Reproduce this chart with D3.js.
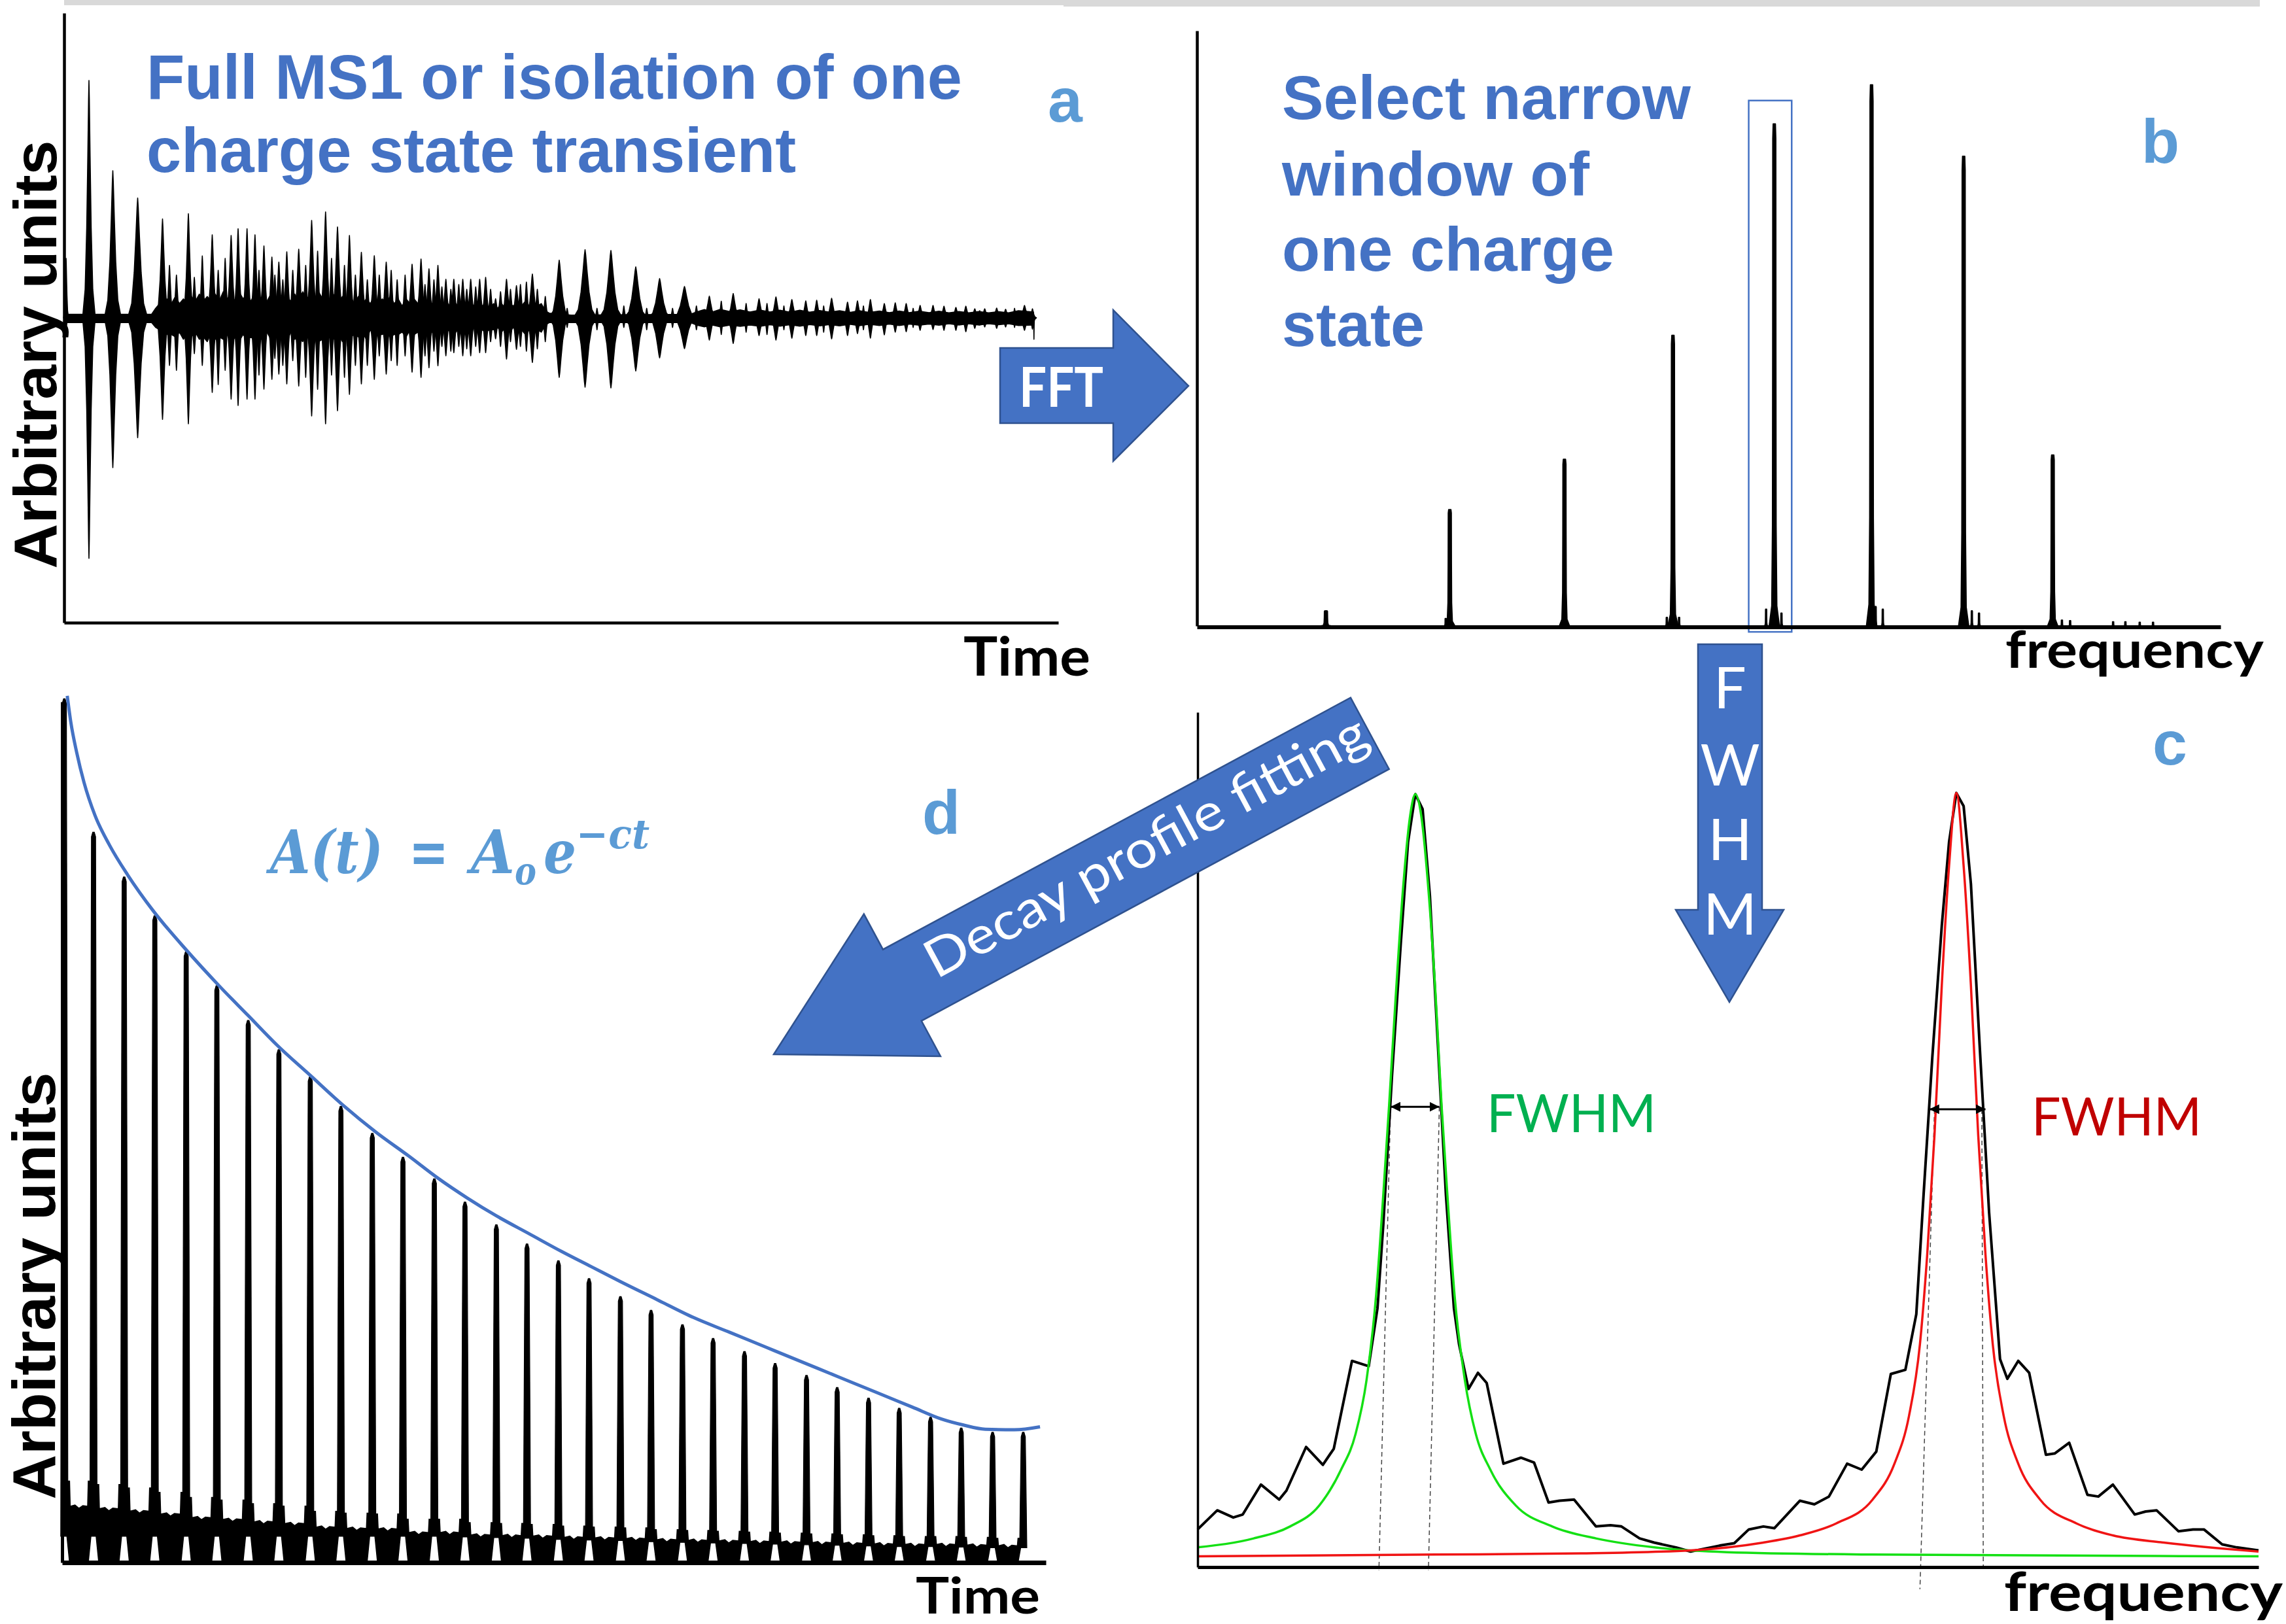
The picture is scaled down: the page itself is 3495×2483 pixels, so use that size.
<!DOCTYPE html>
<html>
<head>
<meta charset="utf-8">
<script src="https://cdn.jsdelivr.net/npm/d3@7"></script>
<style>
  html, body { margin: 0; padding: 0; background: #fff; }
  svg { display: block; }
</style>
</head>
<body>
<svg id="fig" width="3495" height="2483"></svg>
<script>
// ---------- panel a : transient (time, amplitude up, amplitude down, half width)
var transientBeats = [
  [0.2, 25, 5, 0.25], [2.5, 99.7, 101, 0.64], [4.9, 61.8, 62.9, 0.84], [7.4, 50.3, 50.3, 1.0],
  [9.9, 41.5, 42.6, 0.7], [12.5, 43.7, 44.5, 0.62], [14.9, 34.9, 31.3, 0.6], [16.8, 34.6, 34.1, 0.6],
  [17.5, 37.4, 36.8, 0.55], [18.4, 37.4, 34.1, 0.55], [19.2, 34.9, 34.1, 0.55], [20.1, 30.2, 29.9, 0.55],
  [20.9, 25.5, 25.8, 0.55], [21.6, 23.4, 23.6, 0.55], [22.4, 27.7, 27.7, 0.55], [23.6, 28.8, 28.6, 0.6],
  [24.9, 40.9, 41.2, 0.65], [26.3, 44.5, 44.5, 0.65], [27.5, 38.2, 39.0, 0.65], [28.7, 34.6, 32.1, 0.6],
  [29.9, 27.5, 27.7, 0.6], [31.2, 26.1, 25.8, 0.6], [32.4, 23.4, 23.6, 0.6], [35.0, 22.5, 22.8, 0.6],
  [35.9, 24.7, 25.0, 0.6], [36.7, 20.6, 20.9, 0.55], [37.6, 22.0, 20.1, 0.55], [38.4, 16.2, 15.9, 0.55],
  [39.2, 16.2, 14.6, 0.55], [40.1, 16.2, 15.9, 0.55], [40.9, 16.2, 15.9, 0.55], [41.8, 16.2, 14.6, 0.55],
  [42.4, 17.0, 14.6, 0.55], [43.4, 8.0, 8.8, 0.55], [44.5, 16.2, 17.3, 0.6], [45.5, 13.5, 13.2, 0.6],
  [47.1, 18.4, 18.7, 0.7], [49.8, 24.2, 25.0, 1.0], [52.4, 28.6, 29.1, 1.15], [55.0, 28.3, 29.4, 1.15],
  [57.5, 21.4, 22.3, 1.15], [59.9, 16.5, 16.8, 1.15], [62.4, 13.2, 12.9, 1.2], [64.9, 9.1, 9.3, 0.75],
  [67.3, 10.2, 10.7, 0.75], [69.9, 8.0, 7.4, 0.65], [71.6, 8.8, 9.3, 0.65], [73.2, 7.7, 8.5, 0.65],
  [74.6, 7.1, 7.4, 0.55], [75.7, 7.4, 7.4, 0.55], [77.2, 8.2, 8.8, 0.65], [78.8, 6.6, 7.4, 0.55],
  [79.8, 7.1, 6.6, 0.55], [81.1, 7.7, 8.5, 0.55], [82.5, 6.0, 7.1, 0.55], [83.6, 6.3, 6.0, 0.55],
  [84.7, 6.0, 5.8, 0.55], [86.1, 5.2, 5.2, 0.55], [87.4, 5.2, 4.9, 0.55], [88.5, 4.9, 5.2, 0.55],
  [89.7, 4.4, 5.2, 0.55], [90.7, 4.9, 5.8, 0.55], [91.6, 3.8, 4.4, 0.55], [92.6, 3.8, 3.8, 0.55],
  [93.8, 4.1, 4.4, 0.55], [94.7, 3.6, 3.8, 0.55], [96.6, 5.2, 5.2, 0.65], [97.4, 3.8, 4.7, 0.4],
  [97.55, 0, 9, 0.06]
];
var transientMinor = [
  [10.6, 22, 20, 0.45], [11.3, 18, 22, 0.45], [13.1, 17, 15, 0.45], [13.9, 26, 20, 0.45],
  [15.5, 20, 28, 0.45], [16.2, 25, 22, 0.45], [19.6, 20, 24, 0.45], [21.2, 18, 17, 0.45],
  [22.0, 16, 20, 0.45], [23.0, 20, 18, 0.45], [24.3, 22, 25, 0.45], [25.5, 28, 30, 0.45],
  [26.9, 25, 24, 0.45], [28.2, 22, 25, 0.45], [29.3, 18, 20, 0.45], [30.5, 16, 20, 0.45],
  [31.7, 18, 16, 0.45], [32.9, 20, 18, 0.45], [33.5, 16, 20, 0.45], [34.3, 18, 16, 0.45],
  [36.3, 14, 16, 0.45], [37.2, 16, 14, 0.45], [38.0, 13, 12, 0.45], [38.9, 12, 14, 0.45],
  [39.7, 14, 12, 0.45], [40.5, 12, 13, 0.45], [41.4, 13, 12, 0.45], [42.9, 12, 10, 0.45],
  [43.9, 11, 12, 0.45], [44.9, 12, 10, 0.45], [45.9, 14, 12, 0.45], [46.5, 15, 14, 0.45],
  [47.6, 12, 13, 0.45], [48.4, 9, 10, 0.4], [50.6, 4, 4, 0.3], [53.6, 4, 5, 0.3],
  [56.3, 5, 4, 0.3], [58.6, 4, 5, 0.3], [61.2, 4, 4, 0.3], [63.6, 5, 5, 0.35],
  [66.1, 7, 7, 0.35], [68.6, 6, 6, 0.35], [70.7, 6, 7, 0.35], [72.4, 5, 5, 0.3],
  [76.4, 5, 6, 0.3], [80.4, 5, 5, 0.3], [85.4, 4, 4, 0.3], [92.1, 3, 3, 0.3], [95.6, 4, 4, 0.3]
];
// dense carrier floor: time, upper, lower
var transientBand = [
  [0, 1.5, 2], [8.8, 1.5, 2], [9.2, 4, 4], [9.6, 6, 5], [10.0, 5, 5], [10.4, 8, 7], [10.8, 6, 7],
  [11.2, 9, 8], [11.6, 6, 6], [12.0, 8, 9], [12.4, 6, 7], [12.8, 9, 8], [13.2, 7, 6], [13.6, 10, 9],
  [14.0, 7, 8], [14.4, 9, 10], [14.8, 7, 6], [15.2, 10, 9], [15.6, 7, 8], [16.0, 11, 9], [16.4, 8, 7],
  [16.8, 10, 11], [17.2, 7, 8], [17.6, 11, 10], [18.0, 8, 7], [18.4, 10, 9], [18.8, 7, 8], [19.2, 11, 10],
  [19.6, 8, 7], [20.0, 9, 10], [20.4, 7, 6], [20.8, 10, 9], [21.2, 7, 8], [21.6, 9, 8], [22.0, 6, 7],
  [22.4, 9, 10], [22.8, 7, 6], [23.2, 10, 9], [23.6, 7, 8], [24.0, 11, 10], [24.4, 8, 7], [24.8, 10, 11],
  [25.2, 8, 7], [25.6, 11, 10], [26.0, 8, 9], [26.4, 10, 9], [26.8, 7, 8], [27.2, 10, 9], [27.6, 7, 7],
  [28.0, 9, 10], [28.4, 7, 6], [28.8, 9, 8], [29.2, 6, 7], [29.6, 9, 8], [30.0, 6, 6], [30.4, 8, 9],
  [30.8, 6, 5], [31.2, 9, 8], [31.6, 6, 7], [32.0, 8, 7], [32.4, 6, 6], [32.8, 9, 8], [33.2, 6, 7],
  [33.6, 8, 7], [34.0, 5, 6], [34.4, 8, 8], [34.8, 6, 5], [35.2, 8, 7], [35.6, 6, 6], [36.0, 8, 8],
  [36.4, 5, 6], [36.8, 7, 7], [37.2, 5, 5], [37.6, 8, 7], [38.0, 5, 6], [38.4, 7, 6], [38.8, 5, 5],
  [39.2, 7, 7], [39.6, 5, 5], [40.0, 7, 6], [40.4, 5, 5], [40.8, 7, 7], [41.2, 5, 4], [41.6, 7, 6],
  [42.0, 5, 5], [42.4, 6, 6], [42.8, 4, 5], [43.2, 6, 5], [43.6, 4, 4], [44.0, 6, 6], [44.4, 4, 4],
  [44.8, 6, 6], [45.2, 5, 4], [45.6, 7, 6], [46.0, 5, 5], [46.4, 7, 7], [46.8, 5, 5], [47.2, 7, 6],
  [47.6, 5, 5], [48.0, 6, 6], [48.4, 3, 3], [48.8, 2, 2], [51, 1.2, 2], [63, 1.5, 2], [63.6, 2.5, 3],
  [64.4, 3.5, 3.8], [65.2, 2.5, 3], [66.0, 3.6, 3.8], [67.0, 2.6, 3.0], [68.0, 3.4, 3.6], [69.0, 2.5, 3],
  [70.0, 3.3, 3.6], [71.0, 2.5, 2.9], [72.0, 3.2, 3.5], [73.0, 2.4, 2.9], [74.0, 3.2, 3.5], [75.0, 2.4, 2.8],
  [76.0, 3.1, 3.4], [77.0, 2.4, 2.8], [78.0, 3.0, 3.4], [79.0, 2.3, 2.7], [80.0, 3.0, 3.3], [81.0, 2.3, 2.7],
  [82.0, 2.9, 3.2], [83.0, 2.2, 2.6], [84.0, 2.9, 3.2], [85.0, 2.2, 2.6], [86.0, 2.8, 3.1], [87.0, 2.2, 2.6],
  [88.0, 2.8, 3.1], [89.0, 2.1, 2.5], [90.0, 2.7, 3.0], [91.0, 2.1, 2.5], [92.0, 2.7, 3.0], [93.0, 2.1, 2.5],
  [94.0, 2.6, 2.9], [95.0, 2.1, 2.5], [96.0, 3.0, 3.2], [97.5, 2.5, 3]
];

// ---------- panel b : spectrum
var specFreq = [12.6, 24.7, 35.9, 46.5, 56.4, 65.9, 74.9, 83.6];
var specHeight = [2.8, 21.5, 30.8, 53.7, 92.8, 100, 86.8, 31.6];
var specSmall = [
  [55.6, 3.1], [57.1, 2.4], [66.3, 3.6], [67.0, 3.1], [75.7, 2.8], [76.4, 2.4], [47.1, 1.6],
  [45.9, 1.6], [84.5, 1.1], [85.3, 1.0], [89.5, 0.8], [90.7, 0.8], [92.1, 0.7], [93.4, 0.7],
  [24.3, 1.4], [35.7, 1.1]
];
var selectedWindow = [53.9, 58.1];
var selectedTop = 97.1;

// ---------- panel c : one charge state, measured profile and two fits
var measured = [
  [0,63],[27,95],[49,83],[62,88],[87,138],[112,113],[122,128],[149,201],[172,171],[187,198],
  [212,345],[235,336],[247,433],[255,573],[267,823],[279,1043],[289,1213],[299,1293],[309,1268],
  [319,1123],[330,873],[341,623],[352,433],[359,373],[372,298],[385,325],[397,308],[420,173],
  [444,183],[462,175],[482,108],[497,111],[517,113],[547,68],[567,70],[582,68],[607,48],[627,41],
  [657,33],[677,26],[717,36],[737,40],[757,63],[777,68],[792,65],[827,111],[847,105],[867,118],
  [892,173],[912,163],[932,193],[952,323],[972,330],[987,423],[997,623],[1009,853],[1022,1073],
  [1032,1213],[1042,1295],[1052,1273],[1062,1143],[1074,873],[1087,593],[1102,348],[1112,315],
  [1127,345],[1142,325],[1165,188],[1177,190],[1197,208],[1222,121],[1237,118],[1257,138],
  [1287,88],[1302,93],[1317,95],[1347,60],[1367,63],[1382,63],[1407,38],[1427,33],[1457,28]
];
var fitGreen = [
  [0,33],[77,48],[127,68],[167,103],[197,163],[217,223],[232,313],[245,453],[255,623],[263,773],
  [272,953],[282,1133],[292,1258],[299,1293],[307,1258],[317,1133],[327,953],[335,773],[343,623],
  [353,453],[367,313],[382,223],[402,163],[437,103],[487,68],[547,48],[627,33],[727,25],[927,21],[1457,18]
];
var fitRed = [
  [0,18],[327,21],[527,23],[677,28],[777,41],[827,53],[877,73],[927,113],[957,173],[977,253],
  [992,373],[1002,523],[1012,723],[1022,973],[1032,1173],[1042,1295],[1052,1173],[1062,973],
  [1072,723],[1082,523],[1092,373],[1107,253],[1127,173],[1157,113],[1207,73],[1257,53],
  [1327,41],[1457,26]
];
// FWHM markers: level, left, right
var fwhmGreen = [770, 265, 332];
var fwhmRed = [766, 1005, 1082];
// guide lines [x at FWHM level, level, x at floor, floor]
var fwhmGuides = [[265, 770, 249, -5], [332, 770, 317, -5], [1012, 766, 992, -37], [1077, 766, 1079, 0]];

// ---------- panel d : decay of one charge state
var decayTime = [3, 43, 85, 127, 170, 212, 255, 297, 340, 382, 425, 467, 510, 552, 595, 637,
  680, 722, 765, 807, 850, 892, 935, 977, 1020, 1062, 1105, 1147, 1190, 1232, 1275, 1317];
var decayHeight = [1445, 1222, 1147, 1082, 1022, 965, 907, 858, 813, 763, 718, 678, 642, 603, 565,
  533, 505, 475, 445, 422, 398, 375, 353, 333, 313, 293, 275, 258, 243, 225, 218, 218];
var decayFloor = [94, 90, 86, 81, 75, 72, 68, 65, 59, 57, 56, 50, 50, 46, 45, 44, 42, 41, 40, 38,
  37, 36, 35, 34, 33, 32, 31, 30, 30, 29, 28];
var decayFit = [
  [7,1450],[12,1405],[20,1355],[30,1305],[45,1250],[65,1200],[90,1150],[125,1090],[170,1025],
  [215,965],[255,915],[295,865],[340,815],[385,765],[430,720],[475,680],[515,643],[555,610],
  [595,580],[640,550],[685,520],[725,495],[765,470],[815,440],[865,410],[915,385],[965,360],
  [1015,335],[1065,310],[1115,285],[1165,260],[1205,240],[1235,230],[1265,223],[1305,222],[1340,227]
];

var BLUE = "#4472C4", BLUE_EDGE = "#2F528F", LIGHT = "#5B9BD5";
var ARIAL = "'Liberation Sans', Arial, sans-serif";
var CAL = "Lato, 'Open Sans', sans-serif";

var svg = d3.select("#fig");
var defs = svg.append("defs");
defs.append("marker").attr("id", "tip").attr("viewBox", "0 0 10 10")
  .attr("refX", 10).attr("refY", 5).attr("markerWidth", 5).attr("markerHeight", 5)
  .attr("orient", "auto-start-reverse")
  .append("path").attr("d", "M0,0L10,5L0,10Z").attr("fill", "#000");

function txt(g, x, y, s, size, opts) {
  opts = opts || {};
  var t = g.append("text").attr("x", x).attr("y", y).text(s)
    .attr("font-size", size)
    .attr("font-family", opts.family || ARIAL)
    .attr("font-weight", opts.weight || "bold")
    .attr("fill", opts.fill || "#000");
  if (opts.len) t.attr("textLength", opts.len).attr("lengthAdjust", "spacingAndGlyphs");
  if (opts.anchor) t.attr("text-anchor", opts.anchor);
  if (opts.style) t.attr("font-style", opts.style);
  return t;
}
function plainAxis(g, axis, at, width, horizontal) {
  var a = g.append("g").attr("transform", horizontal ? "translate(0," + at + ")" : "translate(" + at + ",0)")
    .call(axis.tickValues([]).tickSizeOuter(0));
  a.select(".domain").attr("stroke", "#000").attr("stroke-width", width);
  return a;
}

// gray strip along the top
svg.append("rect").attr("x", 98).attr("y", 0).attr("width", 1528).attr("height", 8).attr("fill", "#d9d9d9");
svg.append("rect").attr("x", 1626).attr("y", 0).attr("width", 1829).attr("height", 10).attr("fill", "#d9d9d9");

// ================= panel a
var gA = svg.append("g");
var xa = d3.scaleLinear().domain([0, 100]).range([98, 1618]);
var ya = d3.scaleLinear().domain([-128, 128]).range([952, 20]);

var beatShape = [[-1,0],[-0.6,0.12],[-0.35,0.38],[-0.18,0.68],[-0.06,0.92],[0,1],[0.06,0.92],[0.18,0.68],[0.35,0.38],[0.6,0.12],[1,0]];
function beatOutline(d) {
  var top = beatShape.map(function (p) { return [d[0] + p[0] * d[3], p[1] * d[1]]; });
  var bot = beatShape.slice().reverse().map(function (p) { return [d[0] + p[0] * d[3], -p[1] * d[2]]; });
  return top.concat(bot);
}
var areaA = d3.area().x(function (d) { return xa(d[0]); })
  .y0(function (d) { return ya(-d[2]); }).y1(function (d) { return ya(d[1]); });
gA.append("path").datum(transientBand).attr("d", areaA).attr("fill", "#000")
  .attr("stroke", "#000").attr("stroke-width", 1.5).attr("stroke-linejoin", "round");
var lineA = d3.line().x(function (d) { return xa(d[0]); }).y(function (d) { return ya(d[1]); });
gA.selectAll("path.beat").data(transientBeats.concat(transientMinor)).join("path")
  .attr("class", "beat")
  .attr("d", function (d) { return lineA(beatOutline(d)) + "Z"; })
  .attr("fill", "#000").attr("stroke", "#000").attr("stroke-width", 1.6).attr("stroke-linejoin", "round");

plainAxis(gA, d3.axisBottom(xa), ya(-128), 4.5, true);
plainAxis(gA, d3.axisLeft(ya), xa(0), 4.5, false);

txt(gA, 224, 151, "Full MS1 or isolation of one", 97, { fill: BLUE, len: 1247 });
txt(gA, 224, 263, "charge state transient", 97, { fill: BLUE, len: 993 });
txt(gA, 1602, 186, "a", 95, { fill: LIGHT });
txt(gA, 0, 0, "Arbitrary units", 92, { anchor: "middle", len: 655 })
  .attr("transform", "translate(86,542) rotate(-90)");
txt(gA, 1473, 1033, "Time", 83, { family: CAL, len: 194 });

// FFT arrow
svg.append("path")
  .attr("d", "M1529,532H1702V474L1817,590L1702,705V647H1529Z")
  .attr("fill", BLUE).attr("stroke", BLUE_EDGE).attr("stroke-width", 2.5);
txt(svg, 1558, 622, "FFT", 84, { family: CAL, fill: "#fff", len: 129 });

// ================= panel b
var gB = svg.append("g");
var xb = d3.scaleLinear().domain([0, 100]).range([1830, 3395]);
var yb = d3.scaleLinear().domain([0, 110]).range([957, 47]);

var peakShape = [[-1,0],[-0.5,0.04],[-0.36,0.2],[-0.32,0.55],[-0.3,0.97],[-0.22,1],[0.22,1],[0.3,0.97],[0.32,0.55],[0.36,0.2],[0.5,0.04],[1,0]];
var lineB = d3.line().x(function (d) { return xb(d[0]); }).y(function (d) { return yb(d[1]); });
function peakOutline(f, h, w) {
  return peakShape.map(function (p) { return [f + p[0] * w, p[1] * h]; });
}
gB.selectAll("path.small").data(specSmall).join("path").attr("class", "small")
  .attr("d", function (d) { return lineB(peakOutline(d[0], d[1], 0.22)) + "Z"; })
  .attr("fill", "#000").attr("stroke", "#000").attr("stroke-width", 1.5);
gB.selectAll("path.peak").data(specFreq).join("path").attr("class", "peak")
  .attr("d", function (d, i) { return lineB(peakOutline(d, specHeight[i], 0.5)) + "Z"; })
  .attr("fill", "#000").attr("stroke", "#000").attr("stroke-width", 1.8).attr("stroke-linejoin", "round");

gB.append("rect")
  .attr("x", xb(selectedWindow[0])).attr("y", yb(selectedTop))
  .attr("width", xb(selectedWindow[1]) - xb(selectedWindow[0]))
  .attr("height", yb(-1.1) - yb(selectedTop))
  .attr("fill", "none").attr("stroke", BLUE).attr("stroke-width", 2.5);

plainAxis(gB, d3.axisBottom(xb), yb(0) + 1.5, 6, true);
plainAxis(gB, d3.axisLeft(yb), xb(0), 4.5, false);

txt(gB, 1960, 182, "Select narrow", 95, { fill: BLUE, len: 625 });
txt(gB, 1960, 299, "window of", 95, { fill: BLUE, len: 470 });
txt(gB, 1960, 414, "one charge", 95, { fill: BLUE, len: 508 });
txt(gB, 1960, 529, "state", 95, { fill: BLUE, len: 218 });
txt(gB, 3274, 249, "b", 95, { fill: LIGHT });
txt(gB, 3066, 1021, "frequency", 78, { family: CAL, len: 395 });

// FWHM arrow (down)
svg.append("path")
  .attr("d", "M2596,985H2694V1391H2727L2644,1532L2562,1391H2596Z")
  .attr("fill", BLUE).attr("stroke", BLUE_EDGE).attr("stroke-width", 2.5);
["F", "W", "H", "M"].forEach(function (ch, i) {
  txt(svg, 2645, [1083, 1201, 1315, 1429][i], ch, 88, { family: CAL, weight: "normal", fill: "#fff", anchor: "middle" });
});

// ================= panel c
var gC = svg.append("g");
var xc = d3.scaleLinear().domain([0, 1457]).range([1831, 3453]);
var yc = d3.scaleLinear().domain([0, 1430]).range([2396, 1089]);
var lineC = d3.line().x(function (d) { return xc(d[0]); }).y(function (d) { return yc(d[1]); });
var smoothC = d3.line().x(function (d) { return xc(d[0]); }).y(function (d) { return yc(d[1]); })
  .curve(d3.curveMonotoneX);

gC.selectAll("line.guide").data(fwhmGuides).join("line").attr("class", "guide")
  .attr("x1", function (d) { return xc(d[0]); }).attr("y1", function (d) { return yc(d[1]); })
  .attr("x2", function (d) { return xc(d[2]); }).attr("y2", function (d) { return yc(d[3]); })
  .attr("stroke", "#444").attr("stroke-width", 1.5).attr("stroke-dasharray", "7,5");

gC.append("path").datum(measured).attr("d", lineC)
  .attr("fill", "none").attr("stroke", "#000").attr("stroke-width", 4).attr("stroke-linejoin", "round");
gC.append("path").datum(fitGreen).attr("d", smoothC)
  .attr("fill", "none").attr("stroke", "#14e014").attr("stroke-width", 3.5);
gC.append("path").datum(fitRed).attr("d", smoothC)
  .attr("fill", "none").attr("stroke", "#f01414").attr("stroke-width", 3.5);

[fwhmGreen, fwhmRed].forEach(function (m) {
  gC.append("line")
    .attr("x1", xc(m[1])).attr("x2", xc(m[2])).attr("y1", yc(m[0])).attr("y2", yc(m[0]))
    .attr("stroke", "#000").attr("stroke-width", 3)
    .attr("marker-start", "url(#tip)").attr("marker-end", "url(#tip)");
});

plainAxis(gC, d3.axisBottom(xc), yc(0), 5, true);
plainAxis(gC, d3.axisLeft(yc), xc(0), 3.5, false);

txt(gC, 2273, 1731, "FWHM", 82, { family: CAL, weight: "normal", fill: "#00B050", len: 259 });
txt(gC, 3106, 1736, "FWHM", 82, { family: CAL, weight: "normal", fill: "#C00000", len: 260 });
txt(gC, 3291, 1169, "c", 95, { fill: LIGHT });
txt(gC, 3064, 2463, "frequency", 82, { family: CAL, len: 426 });

// ================= panel d
var gD = svg.append("g");
var xd = d3.scaleLinear().domain([0, 1348]).range([95, 1599]);
var yd = d3.scaleLinear().domain([0, 1440]).range([2389, 1073]);
var Y0 = yd(0);
var pix = d3.line();

function legTop(i) {
  return Math.max(yd(decayFloor[Math.min(i, decayFloor.length - 1)]) + 3, Y0 - 40);
}
var blocks = decayFloor.map(function (f, i) {
  var xa0 = xd(decayTime[i]), xb0 = xd(decayTime[i + 1]);
  var F = yd(f), S = yd(f * 1.45);
  var La = legTop(i), Lb = legTop(i + 1);
  var mid = (xa0 + xb0) / 2;
  return [[xa0 + 8, Y0], [xa0 + 4, La], [xa0 + 4, S], [xa0 + 8, S], [xa0 + 9, F],
    [mid - 6, F - 2], [mid, F + 3], [mid + 6, F - 1],
    [xb0 - 9, F], [xb0 - 8, S], [xb0 - 4, S], [xb0 - 4, Lb], [xb0 - 8, Y0]];
});
gD.selectAll("path.block").data(blocks).join("path").attr("class", "block")
  .attr("d", function (d) { return pix(d) + "Z"; }).attr("fill", "#000")
  .attr("stroke", "#000").attr("stroke-width", 1.5);

gD.selectAll("path.spike").data(decayTime).join("path").attr("class", "spike")
  .attr("d", function (t, i) {
    var X = xd(t), h = decayHeight[i], L = legTop(i);
    return pix([[X - 5.5, L], [X - 4.5, yd(h * 0.5)], [X - 3.2, yd(h) + 7], [X - 1.2, yd(h)],
      [X + 1.2, yd(h)], [X + 3.2, yd(h) + 7], [X + 4.5, yd(h * 0.5)], [X + 5.5, L]]) + "Z";
  })
  .attr("fill", "#000").attr("stroke", "#000").attr("stroke-width", 1.2);

var fitLine = d3.line().x(function (d) { return xd(d[0]); }).y(function (d) { return yd(d[1]); })
  .curve(d3.curveMonotoneX);
gD.append("path").datum(decayFit).attr("d", fitLine)
  .attr("fill", "none").attr("stroke", BLUE).attr("stroke-width", 5);

plainAxis(gD, d3.axisBottom(xd), Y0, 7, true);
plainAxis(gD, d3.axisLeft(yd), xd(0), 5, false);

txt(gD, 0, 0, "Arbitrary units", 92, { anchor: "middle", len: 653 })
  .attr("transform", "translate(84,1966) rotate(-90)");
txt(gD, 1400, 2467, "Time", 77, { family: CAL, len: 190 });
txt(gD, 1410, 1275, "d", 95, { fill: LIGHT });

// formula A(t) = A0 e^-ct
var SERIF = "'DejaVu Serif', 'Liberation Serif', serif";
var fopt = { family: SERIF, fill: LIGHT, style: "italic" };
txt(gD, 413, 1335, "A(t)", 92, Object.assign({ len: 173 }, fopt));
txt(gD, 625, 1335, "=", 92, Object.assign({ len: 61 }, fopt)).attr("font-style", "normal");
txt(gD, 720, 1335, "A", 92, Object.assign({ len: 67 }, fopt));
txt(gD, 787, 1352, "o", 58, Object.assign({ len: 33 }, fopt));
txt(gD, 831, 1335, "e", 92, Object.assign({ len: 50 }, fopt));
txt(gD, 881, 1297, "\u2212ct", 62, Object.assign({ len: 112 }, fopt));

// decay profile fitting arrow
var gArr = svg.append("g").attr("transform", "translate(1183,1612) rotate(-28.3)");
gArr.append("path")
  .attr("d", "M0,0L223,-123.5V-62H1035V62H223V123.5Z")
  .attr("fill", BLUE).attr("stroke", BLUE_EDGE).attr("stroke-width", 2.5);
txt(gArr, 273, 17, "Decay profile fitting", 80, { family: CAL, weight: "normal", fill: "#fff", len: 757 });
</script>
</body>
</html>
